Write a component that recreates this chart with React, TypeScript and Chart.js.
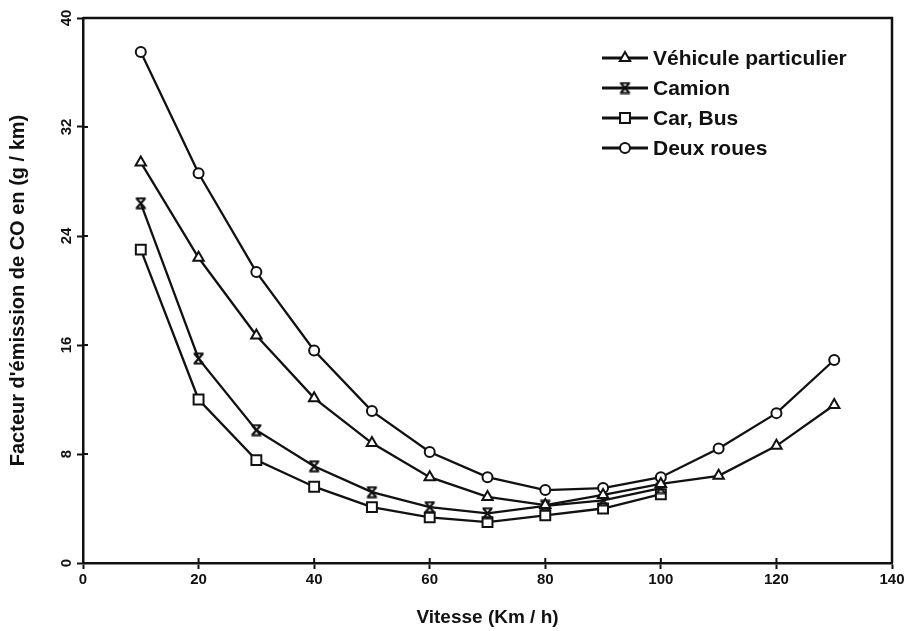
import React, { useEffect, useRef } from 'react';
import { Chart, registerables } from 'chart.js';
import { drawPoint } from 'chart.js/helpers';

Chart.register(...registerables);

const speeds = [10, 20, 30, 40, 50, 60, 70, 80, 90, 100, 110, 120, 130];
const vehicule = [29.4, 22.4, 16.7, 12.1, 8.8, 6.3, 4.85, 4.25, 5.0, 5.8, 6.4, 8.6, 11.6];
const camion = [26.4, 15.0, 9.75, 7.1, 5.2, 4.1, 3.65, 4.2, 4.6, 5.5];
const carBus = [23.0, 12.0, 7.55, 5.6, 4.1, 3.35, 3.0, 3.5, 4.0, 5.05];
const deuxRoues = [37.5, 28.6, 21.35, 15.6, 11.15, 8.15, 6.3, 5.35, 5.5, 6.3, 8.4, 11.0, 14.9];
const seriesNames = ['Véhicule particulier', 'Camion', 'Car, Bus', 'Deux roues'];
const xTitle = 'Vitesse (Km / h)';
const yTitle = "Facteur d'émission de CO en (g / km)";

const INK = '#111111';
const FONT = "'Liberation Sans', Arial, sans-serif";

function makeHourglass(): HTMLCanvasElement {
  const c = document.createElement('canvas');
  c.width = 13;
  c.height = 13;
  const g = c.getContext('2d')!;
  g.strokeStyle = INK;
  g.lineWidth = 2.2;
  g.beginPath();
  g.moveTo(1.5, 1.5); g.lineTo(11.5, 1.5);
  g.moveTo(1.5, 11.5); g.lineTo(11.5, 11.5);
  g.moveTo(2.5, 2); g.lineTo(10.5, 11);
  g.moveTo(10.5, 2); g.lineTo(2.5, 11);
  g.stroke();
  return c;
}

function pts(values: number[]) {
  return values.map((v, i) => ({ x: speeds[i], y: v }));
}

export default function App() {
  const ref = useRef<HTMLCanvasElement | null>(null);

  useEffect(() => {
    const hourglass = makeHourglass();
    const styles: any[] = ['triangle', hourglass, 'rect', 'circle'];
    const radii = [6, 6, 7, 5];

    const frame = {
      id: 'frame',
      afterDraw(chart: any) {
        const { ctx, chartArea } = chart;
        const { left, right, top, bottom } = chartArea;
        ctx.save();
        ctx.strokeStyle = INK;
        ctx.lineWidth = 2.5;
        ctx.beginPath();
        ctx.moveTo(left, top);
        ctx.lineTo(right, top);
        ctx.lineTo(right, bottom);
        ctx.stroke();
        // inner tick marks
        ctx.lineWidth = 2;
        const xs = chart.scales.x;
        xs.ticks.forEach((t: any) => {
          const px = xs.getPixelForValue(t.value);
          ctx.beginPath();
          ctx.moveTo(px, bottom);
          ctx.lineTo(px, bottom - 5);
          ctx.stroke();
        });
        const ys = chart.scales.y;
        ys.ticks.forEach((t: any) => {
          const py = ys.getPixelForValue(t.value);
          ctx.beginPath();
          ctx.moveTo(left, py);
          ctx.lineTo(left + 5, py);
          ctx.stroke();
        });
        // legend
        const lx = right - 290;
        const ly = top + 40;
        const gap = 30;
        ctx.font = `bold 21px ${FONT}`;
        ctx.textBaseline = 'middle';
        ctx.textAlign = 'left';
        seriesNames.forEach((name, i) => {
          const y = ly + i * gap;
          ctx.strokeStyle = INK;
          ctx.lineWidth = 3;
          ctx.beginPath();
          ctx.moveTo(lx, y);
          ctx.lineTo(lx + 46, y);
          ctx.stroke();
          ctx.fillStyle = '#ffffff';
          ctx.strokeStyle = INK;
          ctx.lineWidth = 2;
          drawPoint(ctx, { pointStyle: styles[i], rotation: 0, radius: radii[i], borderWidth: 2 } as any, lx + 23, y);
          ctx.fillStyle = INK;
          ctx.fillText(name, lx + 51, y + 1);
        });
        ctx.restore();
      },
    };

    const datasets = [vehicule, camion, carBus, deuxRoues].map((vals, i) => ({
      label: seriesNames[i],
      data: pts(vals),
      borderColor: INK,
      backgroundColor: '#ffffff',
      borderWidth: 2.3,
      pointStyle: styles[i],
      pointRadius: radii[i],
      pointBorderWidth: 2,
      pointBorderColor: INK,
      pointBackgroundColor: '#ffffff',
      tension: 0,
    }));

    const chart = new Chart(ref.current!, {
      type: 'line',
      data: { datasets },
      options: {
        animation: false,
        responsive: true,
        maintainAspectRatio: false,
        layout: { padding: { top: 18, right: 17, left: 0, bottom: 0 } },
        plugins: { legend: { display: false }, tooltip: { enabled: false } },
        scales: {
          x: {
            type: 'linear',
            min: 0,
            max: 140,
            ticks: { stepSize: 20, color: INK, font: { family: FONT, size: 15, weight: 'bold' }, padding: 2, maxRotation: 0 },
            grid: { drawOnChartArea: false, color: INK, tickLength: 6, tickWidth: 2 },
            border: { color: INK, width: 2.5 },
            title: { display: true, text: xTitle, color: INK, font: { family: FONT, size: 19, weight: 'bold' }, padding: 2 },
            afterFit: (s: any) => { s.height = 68; },
          },
          y: {
            min: 0,
            max: 40,
            ticks: { stepSize: 8, color: INK, font: { family: FONT, size: 15, weight: 'bold' }, padding: 2, minRotation: 90, maxRotation: 90, crossAlign: 'center' },
            grid: { drawOnChartArea: false, color: INK, tickLength: 6, tickWidth: 2 },
            border: { color: INK, width: 2.5 },
            title: { display: true, text: yTitle, color: INK, font: { family: FONT, size: 20, weight: 'bold' }, padding: 6 },
            afterFit: (s: any) => { s.width = 83; },
          },
        },
      },
      plugins: [frame],
    } as any);
    return () => chart.destroy();
  }, []);

  return (
    <div style={{ position: 'fixed', left: 0, top: 0, width: 909, height: 631, background: '#fff' }}>
      <canvas ref={ref} />
    </div>
  );
}
